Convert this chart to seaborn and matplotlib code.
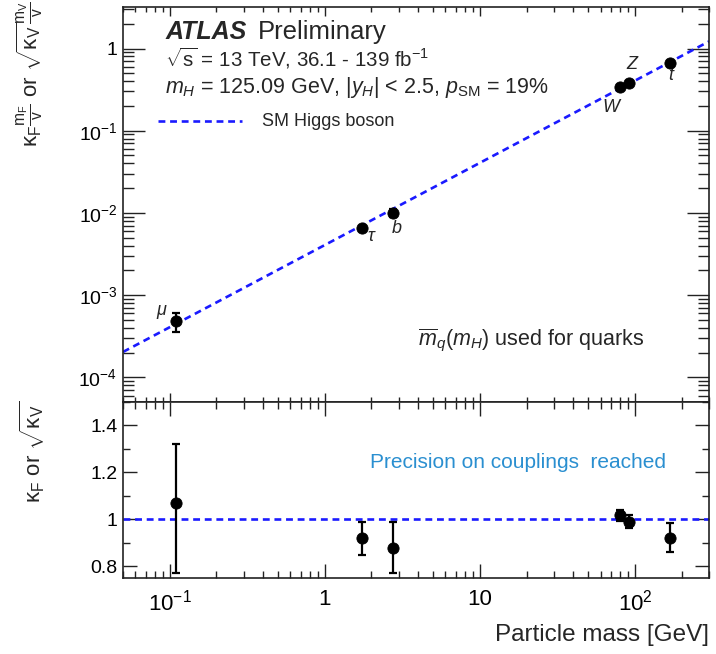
import numpy as np
import pandas as pd
import matplotlib
matplotlib.use('Agg')
import matplotlib.pyplot as plt
import matplotlib.ticker as mticker
import seaborn as sns

# --- data ---
particles = ['mu', 'tau', 'b', 'W', 'Z', 't']
particle_labels = [r'$\mu$', r'$\tau$', r'$b$', r'$W$', r'$Z$', r'$t$']
mass = [0.11, 1.75, 2.75, 80.4, 91.2, 168.0]

# reduced coupling (upper panel)
coupling = [4.8e-4, 6.5e-3, 1.0e-2, 0.345, 0.385, 0.66]
coupling_lo = [3.6e-4, 6.0e-3, 8.9e-3, 0.33, 0.37, 0.61]
coupling_hi = [6.1e-4, 7.0e-3, 1.12e-2, 0.36, 0.40, 0.70]

# kappa (lower panel)
kappa = [1.07, 0.92, 0.88, 1.02, 0.99, 0.92]
kappa_lo = [0.77, 0.85, 0.77, 0.995, 0.965, 0.86]
kappa_hi = [1.32, 0.99, 0.99, 1.04, 1.017, 0.985]

vev = 246.0  # GeV, SM line m/v
xlim = (0.05, 300)

df = pd.DataFrame({'particle': particles, 'mass': mass, 'coupling': coupling,
                   'lo': coupling_lo, 'hi': coupling_hi,
                   'kappa': kappa, 'klo': kappa_lo, 'khi': kappa_hi})

sns.set_style('ticks')
plt.rcParams['font.family'] = ['Liberation Sans', 'DejaVu Sans']
plt.rcParams['mathtext.fontset'] = 'custom'
plt.rcParams['mathtext.rm'] = 'Liberation Sans'
plt.rcParams['mathtext.it'] = 'Liberation Sans:italic'
plt.rcParams['mathtext.bf'] = 'Liberation Sans:bold'

fig = plt.figure(figsize=(7.16, 6.54), dpi=100)
ax1 = fig.add_axes([0.1718, 0.3853, 0.8184, 0.6040])
ax2 = fig.add_axes([0.1718, 0.1162, 0.8184, 0.2691], sharex=ax1)

dash = (0, (2.6, 1.8))
blue = '#1a1aff'

# --- upper panel ---
sm_x = np.array(xlim)
sns.lineplot(x=sm_x, y=sm_x / vev, ax=ax1, color=blue, lw=1.9, linestyle=dash)
ax1.errorbar(df['mass'], df['coupling'],
             yerr=[df['coupling'] - df['lo'], df['hi'] - df['coupling']],
             fmt='none', ecolor='black', elinewidth=1.6, capsize=3, capthick=1.6, zorder=3)
sns.scatterplot(data=df, x='mass', y='coupling', ax=ax1, color='black', s=65,
                edgecolor='black', zorder=4, legend=False)

offsets = {'mu': (-10, 7), 'tau': (7, -6), 'b': (3, -11), 'W': (-6, -15), 'Z': (3, 13), 't': (1, -9)}
for p, lab, m, c in zip(particles, particle_labels, mass, coupling):
    ax1.annotate(lab, (m, c), xytext=offsets[p], textcoords='offset points',
                 ha='center', va='center', fontsize=13)

ax1.set_xscale('log')
ax1.set_yscale('log')
ax1.set_xlim(*xlim)
ax1.set_ylim(5e-5, 3.2)
ax1.set_xlabel('')
ax1.set_ylabel('')
ax1.tick_params(axis='x', which='both', labelbottom=False)

ax1.text(0.072, 0.937, 'ATLAS', transform=ax1.transAxes,
         fontsize=18, va='center', ha='left', fontweight='bold', fontstyle='italic')
ax1.text(0.231, 0.937, 'Preliminary', transform=ax1.transAxes, fontsize=18.5, va='center', ha='left')
ax1.text(0.072, 0.871, r'$\sqrt{\mathrm{s}}$ = 13 TeV, 36.1 - 139 fb$^{-1}$',
         transform=ax1.transAxes, fontsize=14.8, va='center', ha='left')
ax1.text(0.072, 0.795, r'$m_H$ = 125.09 GeV, $|y_H|$ < 2.5, $p_{\mathrm{SM}}$ = 19%',
         transform=ax1.transAxes, fontsize=15.5, va='center', ha='left')
ax1.plot([0.060, 0.203], [0.711, 0.711], transform=ax1.transAxes, color=blue, lw=1.9, linestyle=dash)
ax1.text(0.237, 0.711, 'SM Higgs boson', transform=ax1.transAxes, fontsize=13, va='center', ha='left')
ax1.text(0.503, 0.157, r'$\overline{m}_q(m_H)$ used for quarks', transform=ax1.transAxes,
         fontsize=15.5, va='center', ha='left')

# --- lower panel ---
ax2.axhline(1.0, color=blue, lw=1.9, linestyle=dash)
ax2.errorbar(df['mass'], df['kappa'],
             yerr=[df['kappa'] - df['klo'], df['khi'] - df['kappa']],
             fmt='none', ecolor='black', elinewidth=1.6, capsize=3, capthick=1.6, zorder=3)
sns.scatterplot(data=df, x='mass', y='kappa', ax=ax2, color='black', s=65,
                edgecolor='black', zorder=4, legend=False)
ax2.set_ylim(0.75, 1.5)
ax2.set_xlabel('')
ax2.set_ylabel('')
ax2.text(0.4215, 0.659, 'Precision on couplings  reached', transform=ax2.transAxes,
         fontsize=15, color='#2a8fd0', va='center', ha='left')

ax2.yaxis.set_major_locator(mticker.FixedLocator([0.8, 1.0, 1.2, 1.4]))
ax2.yaxis.set_minor_locator(mticker.MultipleLocator(0.1))
ax2.yaxis.set_major_formatter(mticker.FixedFormatter(['0.8', '1', '1.2', '1.4']))

xmaj = [0.1, 1, 10, 100]
ax2.xaxis.set_major_locator(mticker.FixedLocator(xmaj))
ax2.xaxis.set_major_formatter(mticker.FixedFormatter([r'$10^{-1}$', '1', '10', r'$10^{2}$']))
ax2.xaxis.set_minor_locator(mticker.LogLocator(base=10, subs=np.arange(2, 10), numticks=20))
ax2.xaxis.set_minor_formatter(mticker.NullFormatter())

ax1.yaxis.set_major_locator(mticker.LogLocator(base=10, numticks=20))
ax1.yaxis.set_minor_locator(mticker.LogLocator(base=10, subs=np.arange(2, 10), numticks=20))
ax1.yaxis.set_minor_formatter(mticker.NullFormatter())
ax1.yaxis.set_major_formatter(mticker.FuncFormatter(
    lambda v, pos: '1' if abs(v - 1) < 1e-9 else r'$10^{%d}$' % round(np.log10(v))))

edge = '#222222'
for ax in (ax1, ax2):
    for s in ax.spines.values():
        s.set_color(edge)
        s.set_linewidth(1.2)
    ax.tick_params(which='both', direction='in', top=True, right=True, colors=edge, width=1.0)

ax1.tick_params(axis='x', which='major', length=6.5)
ax1.tick_params(axis='x', which='minor', length=3.6)
ax1.tick_params(axis='y', which='major', length=16, labelsize=14, pad=4)
ax1.tick_params(axis='y', which='minor', length=8)
ax2.tick_params(axis='x', which='major', length=10, labelsize=16, pad=8)
ax2.tick_params(axis='x', which='minor', length=5)
ax2.tick_params(axis='y', which='major', length=10, labelsize=14, pad=4)
ax2.tick_params(axis='y', which='minor', length=5)
for lab in ax1.get_yticklabels() + ax2.get_yticklabels() + ax2.get_xticklabels():
    lab.set_color('black')

fig.text(30 / 716, 1 - 1 / 654,
         r'$\mathrm{\kappa}_{\mathrm{F}}\frac{\mathrm{m_F}}{\mathrm{v}}$ or $\sqrt{\mathrm{\kappa}_{\mathrm{V}}}\frac{\mathrm{m_V}}{\mathrm{v}}$',
         rotation=90, ha='center', va='top', fontsize=16)
fig.text(32 / 716, 1 - 401 / 654,
         r'$\mathrm{\kappa}_{\mathrm{F}}$ or $\sqrt{\mathrm{\kappa}_{\mathrm{V}}}$',
         rotation=90, ha='center', va='top', fontsize=16)
fig.text(709 / 716, 1 - 635 / 654, 'Particle mass [GeV]', ha='right', va='center', fontsize=17.5)

fig.savefig('out.png', dpi=100)
